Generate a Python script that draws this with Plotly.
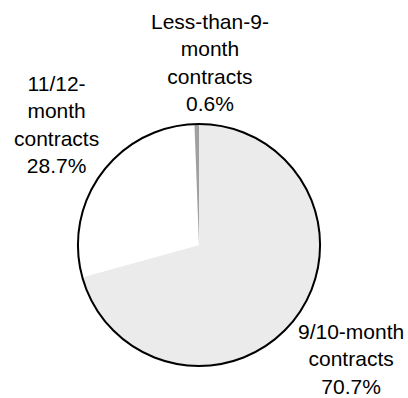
import plotly.graph_objects as go

labels = ["9/10-month contracts", "11/12-month contracts", "Less-than-9-month contracts"]
label_text = ["9/10-month<br>contracts", "11/12-<br>month<br>contracts", "Less-than-9-<br>month<br>contracts"]
values = [70.7, 28.7, 0.6]
colors = ["#ebebeb", "#ffffff", "#a0a0a0"]

W, H = 408, 398
cx, cy, r = 199, 245, 121
dom_x = [(cx - r) / W, (cx + r) / W]
dom_y = [(H - cy - r) / H, (H - cy + r) / H]

fig = go.Figure()
fig.add_trace(go.Pie(
    labels=labels, values=values, sort=False, direction="clockwise", rotation=0,
    marker=dict(colors=colors, line=dict(width=0)),
    textinfo="none", hoverinfo="label+percent", showlegend=False,
    domain=dict(x=dom_x, y=dom_y),
))
# outer outline
fig.add_trace(go.Pie(
    labels=["outline"], values=[1], sort=False,
    marker=dict(colors=["rgba(0,0,0,0)"], line=dict(color="black", width=2)),
    textinfo="none", hoverinfo="skip", showlegend=False,
    domain=dict(x=dom_x, y=dom_y),
))

label_pos = [(351, 359), (56, 124), (210, 63)]
for txt, v, (px, py) in zip(label_text, values, label_pos):
    fig.add_annotation(
        x=px / W, y=1 - py / H, xref="paper", yref="paper",
        text=f"{txt}<br>{v:.1f}%", showarrow=False,
        xanchor="center", yanchor="middle", align="center",
        font=dict(family="Liberation Sans, Arial", size=21, color="black"),
    )

fig.update_layout(
    width=W, height=H, margin=dict(l=0, r=0, t=0, b=0),
    paper_bgcolor="white", plot_bgcolor="white",
)
fig.write_html("out.html")
